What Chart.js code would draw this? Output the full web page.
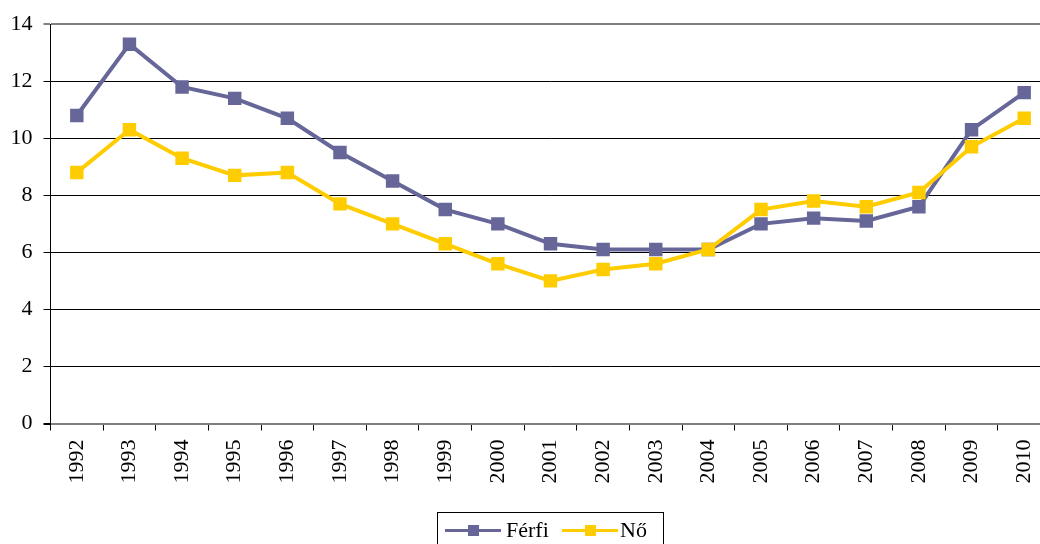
<!DOCTYPE html>
<html>
<head>
<meta charset="utf-8">
<script src="https://cdn.jsdelivr.net/npm/chart.js@4"></script>
<style>
  html, body { margin: 0; padding: 0; background: #fff; overflow: hidden; }
  #wrap { position: relative; width: 1040px; height: 544px; overflow: hidden; }
  #legend {
    position: absolute; left: 437px; top: 512px; width: 227px; height: 40px;
    border: 1px solid #000; box-sizing: border-box;
    font-family: "Liberation Serif", "Times New Roman", serif; font-size: 22px; color: #000;
    white-space: nowrap;
  }
  .item { position: absolute; top: 4px; line-height: 26px; }
  .mark { position: absolute; top: 16px; width: 56px; height: 3px; }
  .mark i { position: absolute; left: 23px; top: -4px; width: 11px; height: 11px; }
</style>
</head>
<body>
<div id="wrap">
  <canvas id="chart" width="1060" height="544"></canvas>
  <div id="legend"></div>
</div>
<script>
// Adatok
const years = ['1992', '1993', '1994', '1995', '1996', '1997', '1998', '1999', '2000', '2001',
               '2002', '2003', '2004', '2005', '2006', '2007', '2008', '2009', '2010'];
const ferfi = [10.8, 13.3, 11.8, 11.4, 10.7, 9.5, 8.5, 7.5, 7.0, 6.3,
               6.1, 6.1, 6.1, 7.0, 7.2, 7.1, 7.6, 10.3, 11.6];
const no = [8.8, 10.3, 9.3, 8.7, 8.8, 7.7, 7.0, 6.3, 5.6, 5.0,
            5.4, 5.6, 6.1, 7.5, 7.8, 7.6, 8.1, 9.7, 10.7];
const seriesNames = ['Férfi', 'Nő'];
const seriesColors = ['#666699', '#FFCC00'];

const font = { family: '"Liberation Serif", "Times New Roman", serif', size: 22 };

function makeDataset(label, data, color, order) {
    return {
        label: label,
        data: data,
        borderColor: color,
        backgroundColor: color,
        borderWidth: 4,
        pointStyle: 'rect',
        pointRadius: 9.5,
        pointBorderWidth: 0,
        tension: 0,
        order: order
    };
}

new Chart(document.getElementById('chart').getContext('2d'), {
    type: 'line',
    data: {
        labels: years,
        datasets: [
            makeDataset(seriesNames[0], ferfi, seriesColors[0], 1),
            makeDataset(seriesNames[1], no, seriesColors[1], 0)
        ]
    },
    options: {
        responsive: false,
        animation: false,
        layout: { padding: { top: 24, right: 6.5, left: 0, bottom: 0 } },
        plugins: { legend: { display: false }, tooltip: { enabled: false } },
        scales: {
            x: {
                offset: true,
                grid: { offset: true, drawOnChartArea: false, drawTicks: true, tickLength: 7, color: '#000' },
                border: { color: '#808080', width: 2 },
                ticks: { color: '#000', font: font, minRotation: 90, maxRotation: 90, padding: 9, autoSkip: false },
                afterFit: scale => { scale.height = 120.5; }
            },
            y: {
                min: 0,
                max: 14,
                ticks: { stepSize: 2, color: '#000', font: font, padding: 11 },
                grid: {
                    tickLength: 7,
                    color: ctx => ctx.tick && ctx.tick.value === 14 ? '#808080' : '#000',
                    lineWidth: ctx => ctx.tick && (ctx.tick.value === 14 || ctx.tick.value === 0) ? 2 : 1
                },
                border: { color: '#000', width: 1 },
                afterFit: scale => { scale.width = 50.5; }
            }
        }
    }
});

// Jelmagyarázat
const legend = document.getElementById('legend');
const offsets = [7, 124];
const gaps = [5, 2];
seriesNames.forEach((name, i) => {
    const x = offsets[i];
    legend.innerHTML += `<span class="mark" style="left:${x}px;background:${seriesColors[i]}"><i style="background:${seriesColors[i]}"></i></span>` +
        `<span class="item" style="left:${x + 56 + gaps[i]}px">${name}</span>`;
});
</script>
</body>
</html>
